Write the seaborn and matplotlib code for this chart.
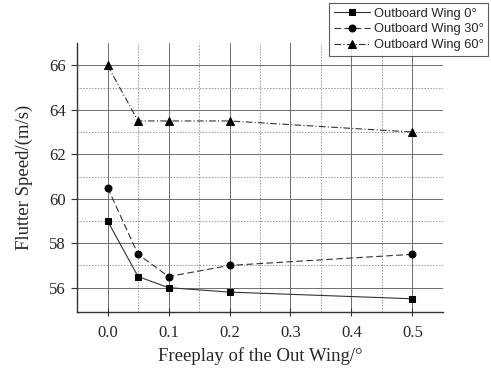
import matplotlib
matplotlib.use("Agg")
import matplotlib.pyplot as plt
import seaborn as sns
import pandas as pd
from matplotlib.ticker import MultipleLocator, FixedLocator

freeplay = [0.0, 0.05, 0.1, 0.2, 0.5]
wing0 = [59.0, 56.5, 56.0, 55.8, 55.5]
wing30 = [60.5, 57.5, 56.5, 57.0, 57.5]
wing60 = [66.0, 63.5, 63.5, 63.5, 63.0]
series_names = ["Outboard Wing 0°", "Outboard Wing 30°", "Outboard Wing 60°"]

df = pd.DataFrame({
    "x": freeplay * 3,
    "y": wing0 + wing30 + wing60,
    "s": [series_names[0]] * 5 + [series_names[1]] * 5 + [series_names[2]] * 5,
})

sns.set_style("white")
plt.rcParams["font.family"] = ["Liberation Serif", "DejaVu Serif"]

fig = plt.figure(figsize=(4.91, 3.72), dpi=100)
ax = fig.add_axes([0.157, 0.161, 0.745, 0.723])

styles = {
    series_names[0]: dict(ls="-", marker="s", ms=5),
    series_names[1]: dict(ls=(0, (6, 3)), marker="o", ms=5),
    series_names[2]: dict(ls=(0, (6, 2, 1, 2)), marker="^", ms=6),
}
for name in series_names:
    sub = df[df["s"] == name]
    st = styles[name]
    sns.lineplot(data=sub, x="x", y="y", ax=ax, color="#333333", lw=0.8,
                 linestyle=st["ls"], marker=st["marker"], markersize=st["ms"],
                 markerfacecolor="black", markeredgecolor="black", label=name,
                 legend=False)

ax.set_xlim(-0.05, 0.55)
ax.set_ylim(54.9, 67.0)
ax.xaxis.set_major_locator(MultipleLocator(0.1))
ax.xaxis.set_minor_locator(MultipleLocator(0.05))
ax.yaxis.set_major_locator(MultipleLocator(2))
ax.yaxis.set_minor_locator(FixedLocator([57, 59, 61, 63, 65]))
ax.xaxis.set_major_formatter(matplotlib.ticker.FormatStrFormatter("%.1f"))

ax.grid(which="major", color="#6e6e6e", lw=0.7, ls="-")
ax.grid(which="minor", color="#999999", lw=0.7, ls=(0, (1.5, 1.5)))
ax.set_axisbelow(True)

for side in ["top", "right"]:
    ax.spines[side].set_visible(False)
for side in ["left", "bottom"]:
    ax.spines[side].set_color("#333333")
    ax.spines[side].set_linewidth(1.0)

ax.tick_params(axis="x", which="major", direction="inout", length=6, width=0.8,
               color="#333333", labelsize=12, pad=6, bottom=True)
ax.tick_params(axis="y", which="major", direction="out", length=4, width=0.8,
               color="#333333", labelsize=12, pad=4, left=True)
ax.tick_params(which="minor", length=0)

ax.set_xlabel("Freeplay of the Out Wing/°", fontsize=13.5, labelpad=5)
ax.set_ylabel("Flutter Speed/(m/s)", fontsize=13.5, labelpad=12)

h, l = ax.get_legend_handles_labels()
leg = fig.legend(h, l, loc="upper right", bbox_to_anchor=(0.994, 0.992),
                 prop={"family": "Liberation Sans", "size": 9.3},
                 frameon=True, fancybox=False, edgecolor="#333333",
                 handlelength=2.8, handletextpad=0.3, borderpad=0.35,
                 labelspacing=0.3, borderaxespad=0)
leg.get_frame().set_linewidth(0.8)

fig.savefig("out.png", dpi=100)
